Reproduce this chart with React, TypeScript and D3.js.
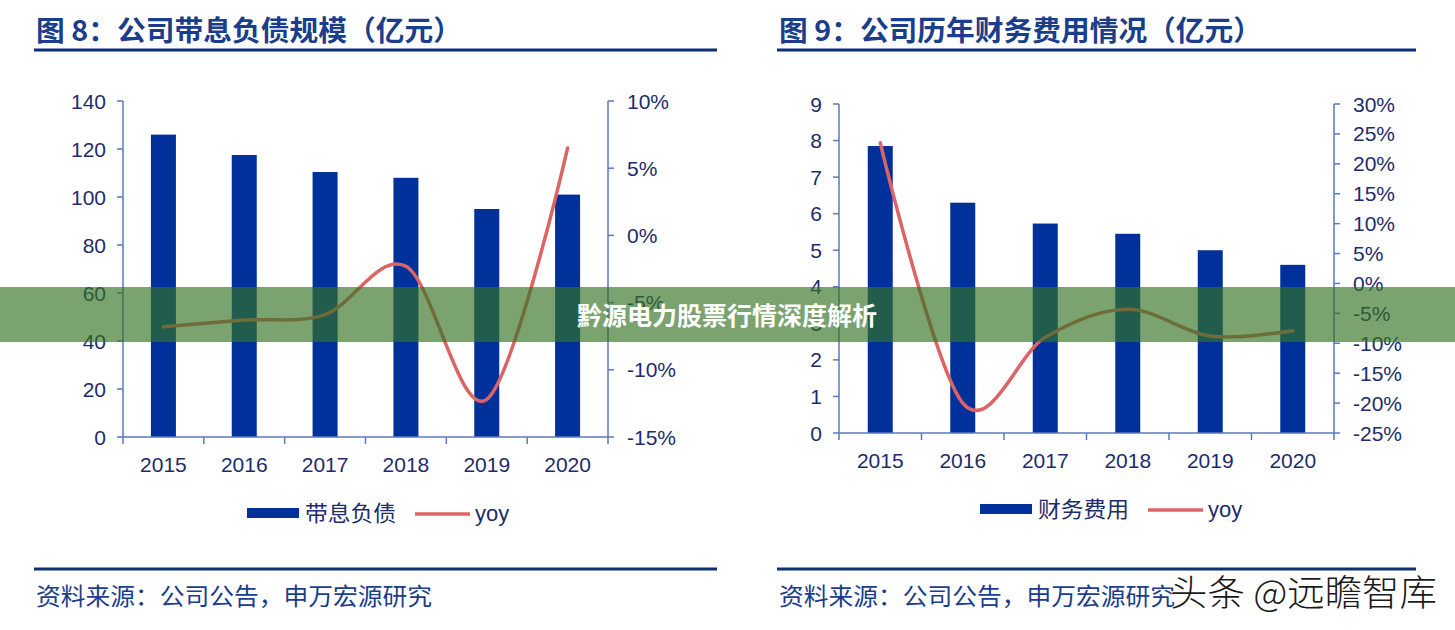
import React from "react";
import * as d3 from "d3";

const years = ["2015", "2016", "2017", "2018", "2019", "2020"];
const debt = [126, 117.5, 110.4, 108, 95, 101];
const debtYoy = [-6.8, -6.3, -5.9, -2.3, -12.2, 6.5];
const finExp = [7.85, 6.3, 5.73, 5.45, 5.0, 4.6];
const finYoy = [23.5, -20.0, -9.0, -4.3, -8.8, -7.9];

const leftTicks = [0, 20, 40, 60, 80, 100, 120, 140];
const leftPctTicks = [-15, -10, -5, 0, 5, 10];
const rightTicks = [0, 1, 2, 3, 4, 5, 6, 7, 8, 9];
const rightPctTicks = [-25, -20, -15, -10, -5, 0, 5, 10, 15, 20, 25, 30];

const title1 = "图 8：公司带息负债规模（亿元）";
const title2 = "图 9：公司历年财务费用情况（亿元）";
const legend1 = "带息负债";
const legend2 = "财务费用";
const source = "资料来源：公司公告，申万宏源研究";
const overlayText = "黔源电力股票行情深度解析";
const watermark = "头条 @远瞻智库";

const BAR = "#00319a";
const LINE = "#dc6464";
const AXIS = "#5b79bd";
const TEXT = "#1c2c6c";
const NAVY = "#0c2f78";
const TITLE = "#1a3d8c";
const FONT = "'Liberation Sans', Arial, 'Noto Sans CJK SC', sans-serif";
const CJK = "'Noto Sans CJK SC', 'Liberation Sans', sans-serif";

type ChartProps = {
  x0: number; x1: number; yTop: number; yBot: number;
  values: number[]; yoy: number[];
  yMax: number; ticks: number[];
  pMin: number; pMax: number; pTicks: number[];
  catBaseline: number;
  legendName: string; legendX: number; legendY: number;
  title: string; titleLen: number; panelX0: number; panelX1: number;
};

function Chart(p: ChartProps) {
  const x = d3.scaleBand<string>().domain(years).range([p.x0, p.x1]).padding(0);
  const y = d3.scaleLinear().domain([0, p.yMax]).range([p.yBot, p.yTop]);
  const yp = d3.scaleLinear().domain([p.pMin, p.pMax]).range([p.yBot, p.yTop]);
  const barW = 25;
  const line = d3
    .line<number>()
    .x((_, i) => (x(years[i]) as number) + x.bandwidth() / 2)
    .y((d) => yp(d))
    .curve(d3.curveCatmullRom.alpha(0));
  const bounds = years.map((yr) => x(yr) as number).concat([p.x1]);
  return (
    <g>
      <text x={p.panelX0 + 2} y={41} fill={TITLE} fontFamily={CJK} fontWeight={700} fontSize={28}
        textLength={p.titleLen} lengthAdjust="spacingAndGlyphs">
        {p.title}
      </text>
      <line x1={p.panelX0} x2={p.panelX1} y1={50} y2={50} stroke={NAVY} strokeWidth={3} />
      {years.map((yr, i) => (
        <rect key={yr} x={(x(yr) as number) + x.bandwidth() / 2 - barW / 2} y={y(p.values[i])}
          width={barW} height={p.yBot - y(p.values[i])} fill={BAR} />
      ))}
      <line x1={p.x0} x2={p.x0} y1={p.yTop} y2={p.yBot} stroke={AXIS} strokeWidth={1.5} />
      {p.ticks.map((t) => (
        <g key={t}>
          <line x1={p.x0 - 6} x2={p.x0} y1={y(t)} y2={y(t)} stroke={AXIS} strokeWidth={1.5} />
          <text x={p.x0 - 17} y={y(t)} dy="0.36em" textAnchor="end" fill={TEXT} fontFamily={FONT} fontSize={21}>
            {t}
          </text>
        </g>
      ))}
      <line x1={p.x1} x2={p.x1} y1={p.yTop} y2={p.yBot} stroke={AXIS} strokeWidth={1.5} />
      {p.pTicks.map((t) => (
        <g key={t}>
          <line x1={p.x1} x2={p.x1 + 6} y1={yp(t)} y2={yp(t)} stroke={AXIS} strokeWidth={1.5} />
          <text x={p.x1 + 19} y={yp(t)} dy="0.36em" textAnchor="start" fill={TEXT} fontFamily={FONT} fontSize={21}>
            {t + "%"}
          </text>
        </g>
      ))}
      <line x1={p.x0} x2={p.x1} y1={p.yBot} y2={p.yBot} stroke={AXIS} strokeWidth={1.5} />
      {bounds.map((b, i) => (
        <line key={i} x1={b} x2={b} y1={p.yBot} y2={p.yBot + 7} stroke={AXIS} strokeWidth={1.5} />
      ))}
      {years.map((yr) => (
        <text key={yr} x={(x(yr) as number) + x.bandwidth() / 2} y={p.catBaseline} textAnchor="middle"
          fill={TEXT} fontFamily={FONT} fontSize={21}>
          {yr}
        </text>
      ))}
      <path d={line(p.yoy) || ""} fill="none" stroke={LINE} strokeWidth={3.5} strokeLinecap="round" />
      <rect x={p.legendX} y={p.legendY - 5} width={52} height={10} fill={BAR} />
      <text x={p.legendX + 58} y={p.legendY} dy="0.36em" fill={TEXT} fontFamily={CJK} fontSize={22}
        textLength={91} lengthAdjust="spacingAndGlyphs">
        {p.legendName}
      </text>
      <line x1={p.legendX + 168} x2={p.legendX + 223} y1={p.legendY + 1} y2={p.legendY + 1} stroke={LINE} strokeWidth={3.5} />
      <text x={p.legendX + 228} y={p.legendY} dy="0.36em" fill={TEXT} fontFamily={FONT} fontSize={22}>
        yoy
      </text>
      <line x1={p.panelX0} x2={p.panelX1} y1={569} y2={569} stroke={NAVY} strokeWidth={3} />
      <text x={p.panelX0 + 2} y={605} fill={TITLE} fontFamily={CJK} fontSize={24}
        textLength={396} lengthAdjust="spacingAndGlyphs">
        {source}
      </text>
    </g>
  );
}

export default function App() {
  return (
    <svg width={1455} height={630} style={{ position: "absolute", left: 0, top: 0, background: "#fff" }}>
      <rect x={0} y={0} width={1455} height={630} fill="#fff" />
      <Chart x0={123} x1={608} yTop={101} yBot={437} values={debt} yoy={debtYoy} yMax={140}
        ticks={leftTicks} pMin={-15} pMax={10} pTicks={leftPctTicks} catBaseline={472}
        legendName={legend1} legendX={247} legendY={513} title={title1} titleLen={426} panelX0={34} panelX1={717} />
      <Chart x0={839} x1={1334} yTop={104} yBot={433} values={finExp} yoy={finYoy} yMax={9}
        ticks={rightTicks} pMin={-25} pMax={30} pTicks={rightPctTicks} catBaseline={468}
        legendName={legend2} legendX={980} legendY={509} title={title2} titleLen={483} panelX0={777} panelX1={1416} />
      <rect x={0} y={287} width={1455} height={55} fill="rgb(52,114,35)" fillOpacity={0.655} />
      <text x={727} y={316} dy="0.36em" textAnchor="middle" fill="#fff" fontFamily={CJK} fontWeight={700} fontSize={25}>
        {overlayText}
      </text>
      <text x={1170} y={606} fill="#1a1a1a" stroke="#fff" strokeWidth={1.2} paintOrder="stroke"
        fontFamily={CJK} fontWeight={300} fontSize={36} textLength={267} lengthAdjust="spacingAndGlyphs">
        {watermark}
      </text>
    </svg>
  );
}
